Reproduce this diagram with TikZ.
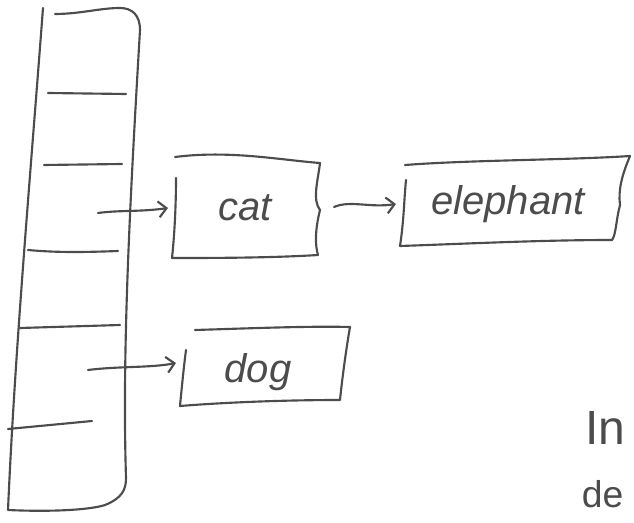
\documentclass[tikz,border=0pt]{standalone}
\usepackage{fontspec}
\setmainfont{Liberation Sans}
\usetikzlibrary{arrows.meta}
\begin{document}
\begin{tikzpicture}[x=0.75pt,y=-0.75pt,
  ink/.style={draw=black!70,line width=1.6pt,line cap=round,line join=round},
  lbl/.style={font=\fontsize{30}{30}\selectfont\itshape,text=black!70},
  arr/.style={ink,-{Straight Barb[length=6pt,width=12pt]}}]
\useasboundingbox (0,0) rectangle (634,523);
% table
\draw[ink] (43,8) .. controls (30,180) and (15,350) .. (8,510)
  .. controls (50,512) and (90,510) .. (105,505)
  .. controls (122,498) and (126,490) .. (126,478)
  .. controls (122,350) and (130,200) .. (140,30)
  .. controls (140,15) and (132,8) .. (120,8)
  .. controls (100,8) and (80,14) .. (55,14);
\draw[ink] (48,93) -- (126,94);
\draw[ink] (44,165) -- (122,164);
\draw[ink] (28,250) .. controls (60,253) and (90,252) .. (118,251);
\draw[ink] (20,328) -- (120,325);
\draw[ink] (8,429) -- (92,421);
% slots
\coordinate (s1) at (98,213);
\coordinate (s2) at (88,370);
% nodes
\node[lbl] (cat) at (245,208) {cat};
\node[lbl] (eleph) at (508,204) {elephant};
\node[lbl] (dog) at (258,372) {dog};
% boxes
\draw[ink] (175,157) .. controls (230,150) and (280,160) .. (320,163)
  .. controls (318,180) and (312,200) .. (320,210)
  .. controls (315,230) and (315,245) .. (318,255)
  .. controls (270,258) and (210,258) .. (172,258)
  .. controls (175,230) and (176,200) .. (176,178);
\draw[ink] (405,165) .. controls (470,160) and (570,160) .. (630,156)
  .. controls (622,175) and (618,190) .. (620,205)
  .. controls (616,220) and (616,235) .. (612,240)
  .. controls (540,240) and (460,244) .. (400,246)
  .. controls (404,220) and (404,200) .. (406,180);
\draw[ink] (195,330) .. controls (260,328) and (310,326) .. (350,327)
  .. controls (346,350) and (342,380) .. (340,400)
  .. controls (290,400) and (230,402) .. (180,406)
  .. controls (182,385) and (184,365) .. (186,350);
% arrows
\draw[arr] (s1) .. controls (120,210) and (140,212) .. (168,208);
\draw[arr] (334,207) .. controls (350,200) and (370,208) .. (396,204);
\draw[arr] (s2) .. controls (120,366) and (150,368) .. (176,363);
% text at the lower right
\node[lbl,anchor=east,font=\fontsize{36}{36}\selectfont] (t1) at (630,428) {In};
\node[lbl,anchor=east,font=\fontsize{28}{28}\selectfont] (t2) at (628,494) {de};
\end{tikzpicture}
\end{document}
